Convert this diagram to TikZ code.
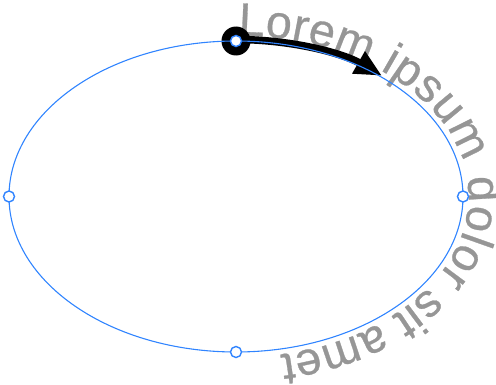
\documentclass[tikz,border=0pt]{standalone}
\usepackage{fontspec}
\setmainfont{Liberation Sans}
\newfontfamily\arctextfont[FakeBold=0.6]{Liberation Sans}
\usetikzlibrary{decorations.text,arrows.meta}
\definecolor{ellblue}{RGB}{48,132,255}
\definecolor{txtgray}{RGB}{150,150,150}
\tikzset{
  ellline/.style={draw=ellblue,line width=1.1pt},
  handledot/.style={circle,fill=black,minimum size=29pt,inner sep=0pt},
  pointdot/.style={circle,draw=ellblue,fill=white,line width=1.4pt,minimum size=11pt,inner sep=0pt},
  arrowline/.style={draw=black,line width=7.5pt,-{Triangle[length=27pt,width=24pt]}},
}
\begin{document}
\begin{tikzpicture}[x=1pt,y=1pt]
\useasboundingbox (0,0) rectangle (496,384);
\coordinate (C) at (236,187.5);
\coordinate (T) at (236,343);
% text along the ellipse, clockwise from the top
\path[decorate,decoration={text along path,raise=5.5pt,text align={left indent=2pt},
  text={|\arctextfont\fontsize{46.5}{54}\selectfont\color{txtgray}|Lorem ipsum dolor sit amet}}]
  (T) arc[start angle=90,end angle=-270,x radius=227,y radius=155.5];
% arrow along the ellipse
\node[handledot] (handle) at (T) {};
\draw[arrowline] (handle.center) ++(0,1.5) arc[start angle=90,end angle=50.3,x radius=228.5,y radius=157];
% ellipse
\draw[ellline] (C) ellipse[x radius=227,y radius=155.5];
% points
\node[pointdot] (top) at (T) {};
\node[pointdot] (right) at (463,187.5) {};
\node[pointdot] (bottom) at (236,32) {};
\node[pointdot] (left) at (9,187.5) {};
\end{tikzpicture}
\end{document}
